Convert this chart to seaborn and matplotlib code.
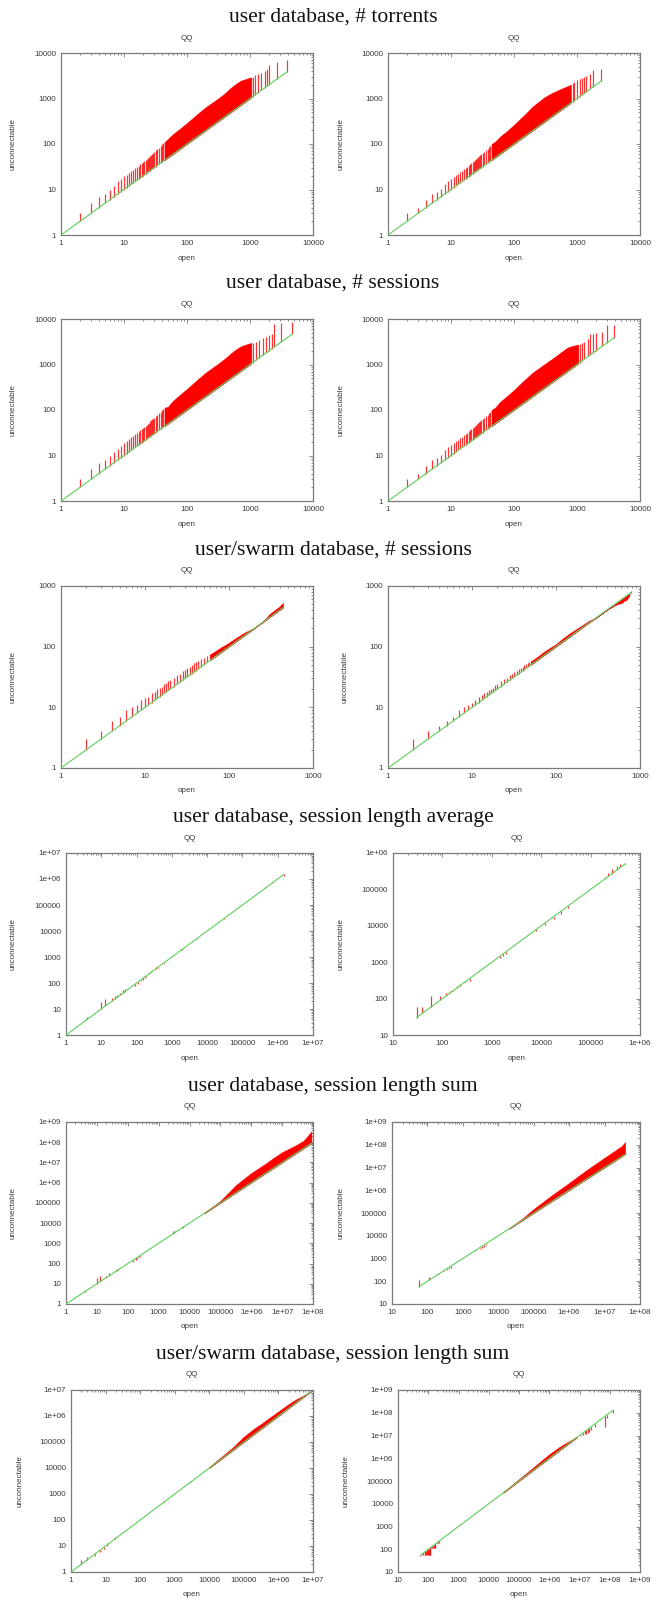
import matplotlib
matplotlib.use("Agg")
import matplotlib.pyplot as plt
from matplotlib.ticker import FixedLocator, LogLocator, FuncFormatter, NullFormatter
import seaborn as sns

# ---------------------------------------------------------------- section titles
section_titles = [
    "user database, # torrents",
    "user database, # sessions",
    "user/swarm database, # sessions",
    "user database, session length average",
    "user database, session length sum",
    "user/swarm database, session length sum",
]

# ---------------------------------------------------------------- quantile data
# each panel: isolated impulses (open quantile -> unconnectable quantile)
# plus the upper edge of the densely packed impulse band

# user database, # torrents (left)
torr_a_open = [1, 2, 3, 4, 5, 6, 7, 8, 9, 10, 11, 12, 13, 14, 15, 16, 17, 18, 19, 20, 21, 22, 23, 24, 25,
               26, 27, 28, 29, 30, 32, 34, 36, 38, 40, 42, 44,
               1100, 1200, 1350, 1500, 1700, 1850, 2000, 2700, 3900]
torr_a_unc = [1, 3, 5, 7, 8, 10, 12, 15, 17, 20, 21, 23, 25, 27, 29, 31, 33, 36, 38, 40, 42, 44, 47, 50, 52,
              55, 58, 61, 64, 67, 72, 78, 83, 90, 100, 105, 110,
              3000, 3300, 3500, 3700, 4000, 4500, 5500, 6300, 7100]
torr_a_band_open = [44, 50, 60, 80, 100, 150, 200, 300, 400, 500, 600, 700, 800, 1000, 1050]
torr_a_band_unc = [110, 130, 165, 225, 290, 470, 650, 960, 1300, 1740, 2100, 2430, 2600, 2870, 2900]

# user database, # torrents (right)
torr_b_open = [1, 2, 3, 4, 5, 6, 7, 8, 9, 10, 11, 12, 13, 14, 15, 16, 17, 18, 19, 20, 21, 22, 23, 24, 25,
               26, 27, 28, 29, 30, 32, 34, 36, 38, 40, 42, 44,
               850, 900, 1000, 1100, 1200, 1300, 1400, 1600, 1800, 2400]
torr_b_unc = [1, 3, 4, 6, 8, 9, 10.5, 13, 15, 17, 19, 21, 22, 24, 26, 28, 30, 32, 34, 36, 38, 40, 42, 44, 47,
              49, 52, 54, 57, 60, 64, 68, 73, 78, 84, 90, 98,
              2200, 2300, 2500, 2700, 2800, 3000, 3200, 3500, 4200, 4500]
torr_b_band_open = [44, 50, 60, 80, 100, 150, 200, 300, 400, 500, 600, 700, 800]
torr_b_band_unc = [100, 112, 145, 200, 265, 450, 676, 1050, 1320, 1520, 1700, 1860, 2000]

# user database, # sessions (left)
sess_a_open = [1, 2, 3, 4, 5, 6, 7, 8, 9, 10, 11, 12, 13, 14, 15, 16, 17, 18, 19, 20, 21, 22, 23, 24, 25,
               26, 27, 28, 29, 30, 32, 34, 36, 38, 40, 42, 44,
               1100, 1250, 1400, 1600, 1800, 2000, 2200, 2400, 3150, 4700]
sess_a_unc = [1, 3, 5, 7, 8, 10, 12, 14, 16, 19, 21, 23, 25, 27, 29, 31, 33, 36, 38, 40, 42, 45, 47, 50, 53,
              56, 59, 62, 65, 68, 73, 79, 85, 92, 100, 106, 112,
              3000, 3200, 3500, 3800, 4100, 4500, 4800, 7600, 8000, 8700]
sess_a_band_open = [44, 50, 60, 80, 100, 150, 200, 300, 400, 500, 600, 700, 800, 1000, 1050]
sess_a_band_unc = [112, 118, 160, 225, 290, 480, 670, 1000, 1350, 1770, 2150, 2460, 2650, 2930, 2950]

# user database, # sessions (right)
sess_b_open = [1, 2, 3, 4, 5, 6, 7, 8, 9, 10, 11, 12, 13, 14, 15, 16, 17, 18, 19, 20, 21, 22, 23, 24, 25,
               26, 27, 28, 29, 30, 32, 34, 36, 38, 40, 42, 44,
               1100, 1200, 1300, 1500, 1600, 1800, 2000, 2500, 3000, 3900]
sess_b_unc = [1, 3, 4, 6, 8, 9, 10.5, 13, 15, 17, 19, 21, 22, 24, 26, 28, 30, 32, 34, 36, 38, 40, 42, 44, 47,
              49, 52, 54, 57, 60, 64, 68, 73, 78, 84, 90, 98,
              2800, 3000, 3200, 3600, 4600, 4700, 5000, 5300, 7300, 7400]
sess_b_band_open = [44, 50, 60, 80, 100, 150, 200, 300, 400, 500, 600, 700, 800, 1000, 1050]
sess_b_band_unc = [100, 112, 150, 210, 275, 470, 670, 1000, 1320, 1660, 2000, 2340, 2500, 2690, 2750]

# user/swarm database, # sessions (left)
swarm_a_open = [1, 2, 3, 4, 5, 6, 7, 8, 9, 10, 11, 12, 13, 14, 15, 16, 17, 18, 19, 20,
                22, 24, 26, 28, 30, 32, 34, 36, 38, 40, 43, 46, 50, 55, 60]
swarm_a_unc = [1, 3, 4, 6, 7, 9, 10, 11, 13, 14, 15, 17, 18, 20, 21, 22, 24, 25, 27, 28,
               31, 34, 36, 39, 42, 45, 47, 50, 53, 55, 59, 62, 66, 71, 75]
swarm_a_band_open = [60, 70, 80, 100, 120, 150, 200, 250, 280, 300, 350, 400, 440]
swarm_a_band_unc = [75, 86, 97, 116, 138, 168, 205, 260, 300, 340, 400, 460, 530]

# user/swarm database, # sessions (right)
swarm_b_open = [1, 2, 3, 4, 5, 6, 7, 8, 9, 10, 11, 12, 13, 14, 15, 16, 17, 18, 19, 20,
                22, 24, 26, 28, 30, 32, 34, 36, 38, 40, 42, 44, 46, 48, 775]
swarm_b_unc = [1, 3, 4, 5, 6, 7, 9, 10, 11, 12, 13, 15, 16, 17, 18, 19, 20, 21, 23, 24,
               27, 29, 31, 34, 35, 38, 40, 43, 45, 47, 49, 52, 54, 56, 830]
swarm_b_band_open = [50, 60, 70, 80, 100, 120, 150, 200, 250, 300, 350, 400, 450, 500, 550, 600, 650, 700, 750]
swarm_b_band_unc = [57, 68, 80, 91, 110, 136, 170, 220, 270, 300, 350, 400, 440, 480, 510, 520, 570, 600, 700]

# user database, session length average (left)
avg_a_open = [1, 4, 10, 13, 20, 24, 28, 34, 40, 47, 90, 110, 130, 150, 170, 190, 230, 260, 350, 400,
              600, 1800, 2000, 5000, 7000, 30000, 60000, 200000, 250000, 450000, 700000, 1500000]
avg_a_unc = [1, 5, 19, 24, 26, 32, 35, 43, 53, 58, 75, 95, 115, 130, 150, 170, 250, 280, 400, 380,
             560, 2000, 1900, 5300, 6800, 32000, 58000, 210000, 240000, 500000, 750000, 1300000]
avg_a_band_open = []
avg_a_band_unc = []

# user database, session length average (right)
avg_b_open = [30, 39, 60, 91, 103, 120, 141, 165, 200, 224, 282, 355, 1450, 1700, 1900,
              8000, 12000, 18000, 25000, 35000, 200000, 230000, 270000, 300000, 340000, 400000, 500000]
avg_b_unc = [57, 57, 118, 118, 106, 146, 162, 170, 215, 245, 300, 300, 1300, 1500, 1700,
             7200, 10500, 15500, 21000, 31000, 224000, 275000, 370000, 320000, 435000, 500000, 540000]
avg_b_band_open = []
avg_b_band_unc = []

# user database, session length sum (left)
sum_a_open = [1, 4, 10, 13, 20, 25, 38, 45, 50, 150, 180, 200, 230, 250, 3000, 3500, 4000, 6000]
sum_a_unc = [1, 5, 19, 24, 25, 33, 40, 52, 54, 125, 150, 165, 200, 220, 3900, 4200, 4300, 7000]
sum_a_band_open = [30000, 50000, 100000, 200000, 300000, 500000, 1e6, 2e6, 3e6, 5e6, 1e7, 2e7, 3e7, 5e7, 7e7, 8.9e7]
sum_a_band_unc = [33000, 58000, 125000, 360000, 700000, 1.3e6, 3.0e6, 6.0e6, 9.0e6, 1.6e7, 3.2e7, 5.5e7, 7.5e7,
                  1.2e8, 2.2e8, 3.4e8]

# user database, session length sum (right)
sum_b_open = [57, 110, 120, 200, 300, 350, 400, 450, 3000, 3500, 4000, 4500]
sum_b_unc = [115, 160, 140, 220, 280, 300, 330, 370, 2600, 2900, 3300, 3800]
sum_b_band_open = [20000, 50000, 100000, 300000, 1e6, 3e6, 1e7, 2e7, 3e7, 3.8e7]
sum_b_band_unc = [21000, 60000, 1.5e5, 5.5e5, 2.1e6, 7.4e6, 2.7e7, 5.6e7, 8.5e7, 1.3e8]

# user/swarm database, session length sum (left)
swsum_a_open = [1, 2, 3, 5, 7, 9, 11, 12, 19, 40, 500, 3000]
swsum_a_unc = [1, 3, 3.8, 4, 6, 8, 10, 12.5, 22, 42, 540, 3200]
swsum_a_band_open = [10000, 30000, 50000, 100000, 200000, 300000, 500000, 1e6, 2e6, 3e6, 5e6, 9e6]
swsum_a_band_unc = [11000, 37000, 65000, 160000, 330000, 470000, 780000, 1.5e6, 2.9e6, 4.1e6, 5.9e6, 9e6]

# user/swarm database, session length sum (right)
swsum_b_open = [55, 62, 68, 76, 80, 85, 90, 95, 100, 105, 110, 117, 127, 135, 145, 155, 165, 172, 200, 215,
                230, 1.1e7, 1.3e7, 1.5e7, 1.7e7, 1.9e7, 2.1e7, 2.4e7, 3.2e7, 7e7, 8.3e7, 1.3e8]
swsum_b_unc = [50, 55, 55, 54, 54, 54, 54, 54, 54, 54, 54, 54, 117, 117, 117, 117, 117, 117, 180, 180,
               180, 1.0e7, 1.1e7, 1.15e7, 1.2e7, 1.25e7, 1.4e7, 1.8e7, 2.3e7, 2.4e7, 5.6e7, 1.0e8]
swsum_b_band_open = [30000, 100000, 300000, 1e6, 2e6, 3e6, 5e6, 8e6]
swsum_b_band_unc = [33000, 120000, 400000, 1.5e6, 2.9e6, 4.1e6, 6e6, 8.8e6]

# axis ranges as decade exponents (x_lo, x_hi, y_lo, y_hi)
ranges = [
    [(0, 4, 0, 4), (0, 4, 0, 4)],
    [(0, 4, 0, 4), (0, 4, 0, 4)],
    [(0, 3, 0, 3), (0, 3, 0, 3)],
    [(0, 7, 0, 7), (1, 6, 1, 6)],
    [(0, 8, 0, 9), (1, 8, 1, 9)],
    [(0, 7, 0, 7), (1, 9, 1, 9)],
]

panels = [
    [(torr_a_open, torr_a_unc, torr_a_band_open, torr_a_band_unc),
     (torr_b_open, torr_b_unc, torr_b_band_open, torr_b_band_unc)],
    [(sess_a_open, sess_a_unc, sess_a_band_open, sess_a_band_unc),
     (sess_b_open, sess_b_unc, sess_b_band_open, sess_b_band_unc)],
    [(swarm_a_open, swarm_a_unc, swarm_a_band_open, swarm_a_band_unc),
     (swarm_b_open, swarm_b_unc, swarm_b_band_open, swarm_b_band_unc)],
    [(avg_a_open, avg_a_unc, avg_a_band_open, avg_a_band_unc),
     (avg_b_open, avg_b_unc, avg_b_band_open, avg_b_band_unc)],
    [(sum_a_open, sum_a_unc, sum_a_band_open, sum_a_band_unc),
     (sum_b_open, sum_b_unc, sum_b_band_open, sum_b_band_unc)],
    [(swsum_a_open, swsum_a_unc, swsum_a_band_open, swsum_a_band_unc),
     (swsum_b_open, swsum_b_unc, swsum_b_band_open, swsum_b_band_unc)],
]

# ---------------------------------------------------------------- styling
sns.set_theme(style="white")
plt.rcParams["font.family"] = ["Liberation Sans", "DejaVu Sans"]

RED = "#ff0000"
GREEN = "#5ccf5c"
FRAME = "#7a7a7a"
TEXT = "#3a3a3a"
SMALL = 5.8

W, H = 666, 1600
row_top = [53, 319, 586, 853, 1122, 1390]
ax_h = 182
col_left = [[61, 388], [61, 388], [61, 388], [66, 393], [66, 392], [71, 398]]
col_right = [313, 640]
ylabel_x = [[13, 341], [13, 341], [13, 345], [13, 341], [13, 341], [20, 346]]


def tick_text(v, pos):
    if v < 1e6:
        return f"{int(round(v))}"
    return f"{v:.0e}"


fig = plt.figure(figsize=(W / 100, H / 100), dpi=100)

for r in range(6):
    top = row_top[r]
    fig.text(0.5, 1 - (top - 31) / H, section_titles[r], ha="center", va="baseline",
             family="Liberation Serif", size=15.6, color="#111111")
    for c in range(2):
        x0, x1 = col_left[r][c], col_right[c]
        ax = fig.add_axes([x0 / W, 1 - (top + ax_h) / H, (x1 - x0) / W, ax_h / H])
        imp_open, imp_unc, band_open, band_unc = panels[r][c]
        xl0, xl1, yl0, yl1 = ranges[r][c]

        ax.set_xscale("log")
        ax.set_yscale("log")

        if band_open:
            ax.fill_between(band_open, band_open, band_unc, color=RED, lw=0.4,
                            edgecolor=RED, zorder=2)
        ax.vlines(imp_open, imp_open, imp_unc, colors=RED, lw=0.85, alpha=0.8, zorder=2)

        every_open = list(imp_open) + list(band_open)
        lo, hi = min(every_open), max(every_open)
        sns.lineplot(x=[lo, hi], y=[lo, hi], color=GREEN, lw=0.8, ax=ax,
                     estimator=None, zorder=3)

        ax.set_xlim(10.0 ** xl0, 10.0 ** xl1)
        ax.set_ylim(10.0 ** yl0, 10.0 ** yl1)
        ax.xaxis.set_major_locator(FixedLocator([10.0 ** k for k in range(xl0, xl1 + 1)]))
        ax.yaxis.set_major_locator(FixedLocator([10.0 ** k for k in range(yl0, yl1 + 1)]))
        for axis in (ax.xaxis, ax.yaxis):
            axis.set_minor_locator(LogLocator(base=10, subs=range(2, 10), numticks=200))
            axis.set_major_formatter(FuncFormatter(tick_text))
            axis.set_minor_formatter(NullFormatter())
        ax.tick_params(which="both", direction="in", top=True, right=True,
                       color=FRAME, width=0.6)
        ax.tick_params(which="major", length=3.0, labelsize=SMALL, labelcolor=TEXT, pad=3.5)
        ax.tick_params(which="minor", length=1.6)
        for s in ax.spines.values():
            s.set_color(FRAME)
            s.set_linewidth(0.9)
        ax.set_xlabel("")
        ax.set_ylabel("")
        ax.grid(False)

        cx = (x0 + x1) / 2 / W
        fig.text(cx, 1 - (top - 15) / H, "QQ", ha="center", va="center", size=SMALL, color=TEXT)
        fig.text(cx, 1 - (top + ax_h + 23) / H, "open", ha="center", va="center",
                 size=SMALL, color=TEXT)
        fig.text(ylabel_x[r][c] / W, 1 - (top + ax_h / 2) / H, "unconnectable", rotation=90,
                 ha="center", va="center", size=SMALL, color=TEXT)

fig.savefig("out.png", dpi=100)
